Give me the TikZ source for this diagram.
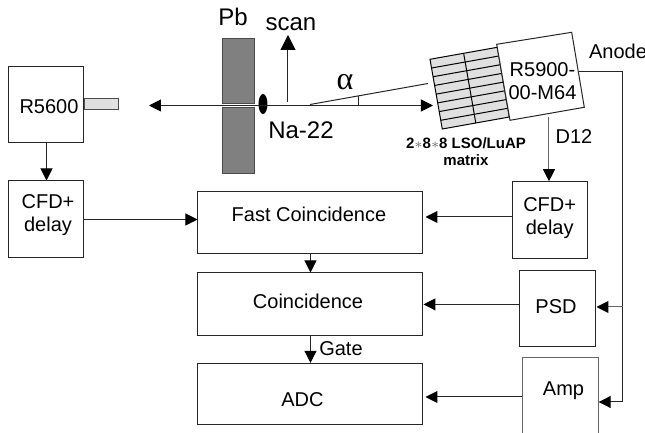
\documentclass[tikz,border=0pt]{standalone}
\usepackage{fontspec}
\setmainfont{Liberation Sans}
\newfontfamily\greekfont{Liberation Serif}
\usetikzlibrary{calc}
\usetikzlibrary{arrows.meta}
\usetikzlibrary{shapes.geometric}
\tikzset{
  box/.style={draw=black!85, line width=0.5pt, inner sep=0pt, align=center},
  wire/.style={draw=black!85, line width=0.5pt},
  big/.style={font=\fontsize{12}{14}\selectfont},
  txt/.style={inner sep=0pt, align=center, font=\fontsize{10}{11.5}\selectfont}
}

\begin{document}
\begin{tikzpicture}[x=0.5pt, y=-0.5pt, >={Triangle[length=6pt,width=6pt,color=black]}]
  \useasboundingbox (0,0) rectangle (645,433);

  % Draw the lead blocks and the source
  \filldraw[fill=black!50,draw=black!70] (222,38) rectangle (254,103);
  \filldraw[fill=black!50,draw=black!70] (222,107) rectangle (254,173);

  % Draw the crystal matrix
  \coordinate (ma) at (430,59.3);
  \coordinate (mb) at (497.3,47.3);
  \coordinate (mc) at (509.3,117);
  \coordinate (md) at (442.3,129);
  \filldraw[fill=black!12,draw=black,line width=0.5pt] (ma) -- (mb) -- (mc) -- (md) -- cycle;
  \foreach \i in {1,...,7}
    \draw[line width=0.5pt] ($(ma)!\i/8!(md)$) -- ($(mb)!\i/8!(mc)$);
  \draw[line width=0.5pt] ($(ma)!0.5!(mb)$) -- ($(md)!0.5!(mc)$);

  % Draw the PMT behind the matrix
  \filldraw[fill=white,draw=black!85,line width=0.5pt] (496.7,44.3) -- (571.7,32.3) -- (584.3,107.3) -- (510,120.3) -- cycle;
  \coordinate (pmtanode) at (579,72);
  \coordinate (pmtdyn) at (549,117);
  \node[txt] (pmt) at (542.5,81.5) {R5900-\\00-M64};

  % Draw the boxes
  \node[box, minimum width=37.5pt, minimum height=38pt, label={[txt, shift={(2.5,2)}]center:R5600}] (rleft) at (46.5,105) {};
  \filldraw[fill=black!12,draw=black!70,line width=0.5pt] (85,99) rectangle (119,110);
  \node[box, minimum width=37.5pt, minimum height=38.5pt, label={[txt, shift={(1.5,-4)}]center:CFD+\\delay}] (cfdleft) at (46.5,219.5) {};
  \node[box, minimum width=37.5pt, minimum height=38.3pt, label={[txt, shift={(0,-2)}]center:CFD+\\delay}] (cfdright) at (549.7,220) {};
  \node[box, minimum width=112.5pt, minimum height=30.8pt, label={[txt, shift={(-1.5,-8.5)}]center:Fast Coincidence}] (fast) at (310.5,222.5) {};
  \node[box, minimum width=112.5pt, minimum height=31.4pt, label={[txt, shift={(-2.5,-3)}]center:Coincidence}] (coinc) at (310.5,304.4) {};
  \node[box, minimum width=112.5pt, minimum height=30.7pt, label={[txt, shift={(-8,6)}]center:ADC}] (adc) at (310.5,394) {};
  \node[box, minimum width=38pt, minimum height=38.4pt, label={[txt, shift={(-2,-2)}]center:PSD}] (psd) at (558,308.5) {};
  \node[box, draw=black!60, minimum width=37.7pt, minimum height=39pt, label={[txt, shift={(3,-6)}]center:Amp}] (amp) at (560.5,397) {};

  % Draw the beam line and the scan direction
  \node[ellipse, fill=black, minimum width=4.5pt, minimum height=10pt, inner sep=0pt] (source) at (263,104) {};
  \coordinate (beamend) at (149,105.5);
  \coordinate (matrixin) at (433,105.5);
  \coordinate (scanfoot) at (288,102);
  \coordinate (scantip) at (288,35);
  \draw[wire,->] (source.center |- beamend) -- (beamend);
  \draw[wire,->] (source.center |- matrixin) -- (matrixin);
  \draw[wire,-{Triangle[length=7.5pt,width=7.5pt,color=black]}] (scanfoot) -- (scantip);

  % Draw the angle
  \coordinate (alphaa) at (310,104.5);
  \coordinate (alphab) at (428,83.5);
  \coordinate (tickt) at (359,96);
  \coordinate (tickb) at (359,105.5);
  \draw[wire] (alphaa) -- (alphab);
  \draw[wire] (tickt) -- (tickb);

  % Draw the connectors
  \draw[wire,->] (rleft) -- (cfdleft);
  \draw[wire,->] (cfdleft) -- (cfdleft -| fast.west);
  \draw[wire,->,draw=black!60] (pmtdyn) -- (cfdright.north -| pmtdyn);
  \draw[wire,->] ([yshift=1.5pt]cfdright.west) -- ([yshift=1.5pt,xshift=1pt]cfdright.west -| fast.east);
  \draw[wire,->] (fast) -- (coinc);
  \draw[wire,->] (coinc) -- (adc);
  \draw[wire,->] (psd.west |- coinc) -- (coinc.east);
  \coordinate (ampin) at (623,402);
  \coordinate (psdin) at (623,307);
  \draw[wire,->] (amp.west) -- ([xshift=1pt]amp.west -| adc.east);
  \draw[wire,->] (pmtanode) -| (ampin) -- (ampin -| amp.east);
  \draw[wire,->,draw=black!60] (psdin) -- (psdin -| psd.east);

  % Draw the labels
  \node[txt,big] (pb) at (233,17) {Pb};
  \node[txt,big] (scan) at (291,24) {scan};
  \node[txt,big] (na) at (301,130) {Na-22};
  \node[txt,font=\greekfont\fontsize{16}{18}\selectfont] (alpha) at (345,82) {α};
  \node[txt] (anode) at (618,51) {Anode};
  \node[txt] (dtwelve) at (574,137) {D12};
  \node[txt] (gate) at (341,349) {Gate};
  \node[txt,font=\bfseries\fontsize{7.5}{8.5}\selectfont] (matrix) at (466,151.5) {2\textcolor{black!60}{$*$}8\textcolor{black!60}{$*$}8 LSO/LuAP\\matrix};
\end{tikzpicture}
\end{document}
